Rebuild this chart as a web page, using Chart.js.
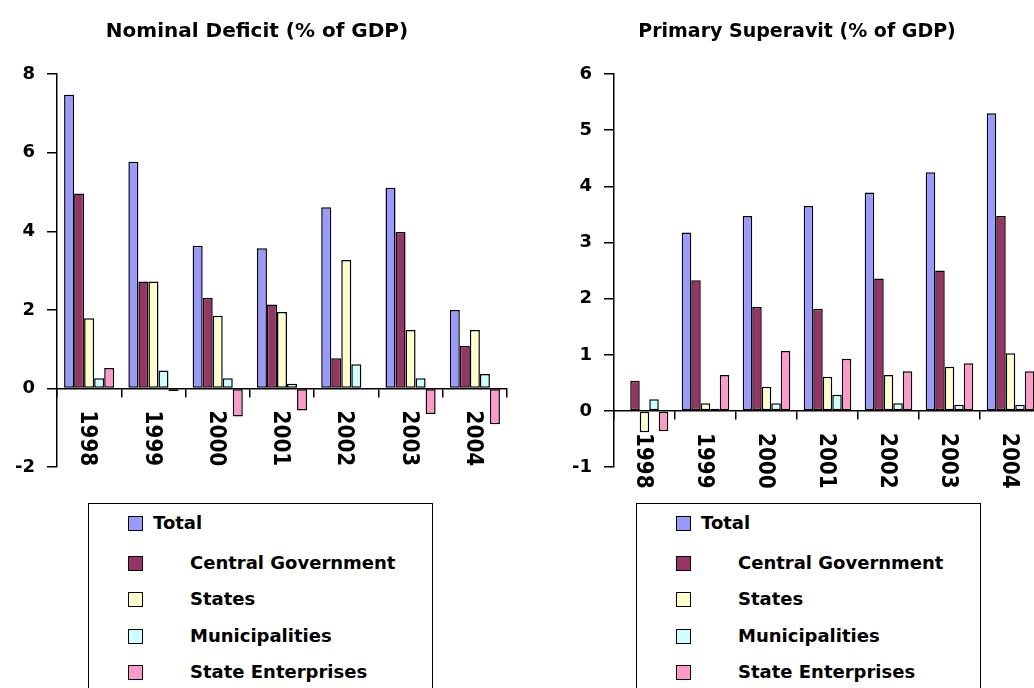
<!DOCTYPE html>
<html>
<head>
<meta charset="utf-8">
<script src="https://cdn.jsdelivr.net/npm/chart.js@4.4.1/dist/chart.umd.min.js"></script>
<style>
html,body{margin:0;padding:0;background:#fff;overflow:hidden;width:1034px;height:688px;}
#wrap{position:relative;width:1034px;height:688px;overflow:hidden;font-family:"DejaVu Sans",sans-serif;font-weight:bold;color:#000;}
canvas{position:absolute;top:0;}
.title{position:absolute;line-height:20px;white-space:nowrap;transform:translateX(-50%);top:20px;}
.legend{position:absolute;top:503px;height:220px;border:1.5px solid #000;box-sizing:border-box;background:#fff;}
.item{position:absolute;font-size:18px;line-height:18px;white-space:nowrap;}
.sw{position:absolute;width:15px;height:15px;border:1.5px solid #000;box-sizing:border-box;}
</style>
</head>
<body>
<div id="wrap">
  <canvas id="c1" width="520" height="490" style="left:0px"></canvas>
  <canvas id="c2" width="540" height="490" style="left:517px"></canvas>
  <div class="title" id="t1" style="left:257px;font-size:20px"></div>
  <div class="title" id="t2" style="left:797px;font-size:19px"></div>
  <div class="legend" id="l1" style="left:88px;width:345px"></div>
  <div class="legend" id="l2" style="left:636px;width:345px"></div>
</div>
<script>
// ---- data ----
const categories = ['1998','1999','2000','2001','2002','2003','2004'];
const seriesNames = ['Total','Central Government','States','Municipalities','State Enterprises'];
const seriesColors = ['#9999FF','#993366','#FFFFCC','#CCFFFF','#FF99CC'];
const titles = ['Nominal Deficit (% of GDP)','Primary Superavit (% of GDP)'];

const deficitTotal          = [7.47, 5.77, 3.63, 3.57, 4.61, 5.11, 2.00];
const deficitCentral        = [4.96, 2.72, 2.30, 2.14, 0.77, 3.98, 1.08];
const deficitStates         = [1.79, 2.72, 1.85, 1.95, 3.27, 1.49, 1.49];
const deficitMunicipalities = [0.26, 0.46, 0.26, 0.12, 0.62, 0.26, 0.37];
const deficitEnterprises    = [0.52,-0.06,-0.71,-0.56, 0.00,-0.65,-0.91];

const surplusTotal          = [0.00, 3.18, 3.47, 3.65, 3.89, 4.25, 5.30];
const surplusCentral        = [0.54, 2.33, 1.85, 1.82, 2.36, 2.50, 3.47];
const surplusStates         = [-0.38,0.14, 0.43, 0.61, 0.64, 0.79, 1.03];
const surplusMunicipalities = [0.21, 0.04, 0.14, 0.29, 0.14, 0.11, 0.11];
const surplusEnterprises    = [-0.36,0.64, 1.07, 0.93, 0.71, 0.85, 0.71];

const deficitTickValues = [-2, 0, 2, 4, 6, 8];
const surplusTickValues = [-1, 0, 1, 2, 3, 4, 5, 6];

// ---- rendering ----
const FONT = '"DejaVu Sans", sans-serif';

const yearLabels = {
  id: 'yearLabels',
  afterDraw(chart) {
    const ctx = chart.ctx, xs = chart.scales.x, ys = chart.scales.y;
    const y0 = ys.getPixelForValue(0) + 22;
    ctx.save();
    ctx.font = 'bold 20px ' + FONT;
    ctx.fillStyle = '#000';
    ctx.textAlign = 'left';
    ctx.textBaseline = 'middle';
    chart.data.labels.forEach((lab, i) => {
      const x = xs.getPixelForValue(i) - 2;
      ctx.save();
      ctx.translate(x, y0);
      ctx.rotate(Math.PI / 2);
      ctx.scale(1, 1.12);
      ctx.fillText(lab, 0, 0);
      ctx.restore();
    });
    ctx.restore();
  }
};

function makeChart(id, seriesValues, tickValues, axisWidth, padRight) {
  new Chart(document.getElementById(id), {
    type: 'bar',
    data: {
      labels: categories,
      datasets: seriesNames.map((n, i) => ({
        label: n,
        data: seriesValues[i],
        backgroundColor: seriesColors[i],
        borderColor: '#000',
        borderWidth: 1.5,
        borderSkipped: false,
        categoryPercentage: 0.78,
        barPercentage: 1.0
      }))
    },
    options: {
      responsive: false,
      animation: false,
      devicePixelRatio: 1,
      layout: { padding: { left: 0, right: padRight, top: 74, bottom: 14 } },
      plugins: { legend: { display: false }, title: { display: false }, tooltip: { enabled: false } },
      scales: {
        x: {
          position: { y: 0 },
          grid: { display: true, drawOnChartArea: false, color: '#000', tickLength: 8, offset: true, lineWidth: 1.5 },
          border: { display: true, color: '#000', width: 1.5 },
          ticks: { display: false }
        },
        y: {
          min: tickValues[0],
          max: tickValues[tickValues.length - 1],
          afterFit(s) { s.width = axisWidth; },
          grid: { drawOnChartArea: false, color: '#000', tickLength: 10, lineWidth: 1.5 },
          border: { display: true, color: '#000', width: 1.5 },
          ticks: {
            stepSize: tickValues[1] - tickValues[0],
            padding: 12,
            color: '#000',
            font: { family: FONT, size: 18, weight: 'bold' }
          }
        }
      }
    },
    plugins: [yearLabels]
  });
}

makeChart('c1', [deficitTotal, deficitCentral, deficitStates, deficitMunicipalities, deficitEnterprises], deficitTickValues, 57, 13);
makeChart('c2', [surplusTotal, surplusCentral, surplusStates, surplusMunicipalities, surplusEnterprises], surplusTickValues, 97, 16);

document.getElementById('t1').textContent = titles[0];
document.getElementById('t2').textContent = titles[1];

const itemY = [20, 60, 96, 133, 169];
['l1', 'l2'].forEach(id => {
  const box = document.getElementById(id);
  seriesNames.forEach((n, i) => {
    const sw = document.createElement('div');
    sw.className = 'sw';
    sw.style.left = '39px';
    sw.style.top = (itemY[i] - 8) + 'px';
    sw.style.background = seriesColors[i];
    box.appendChild(sw);
    const t = document.createElement('div');
    t.className = 'item';
    t.textContent = n;
    t.style.left = (i === 0 ? 64 : 101) + 'px';
    t.style.top = (itemY[i] - 10) + 'px';
    box.appendChild(t);
  });
});
</script>
</body>
</html>
